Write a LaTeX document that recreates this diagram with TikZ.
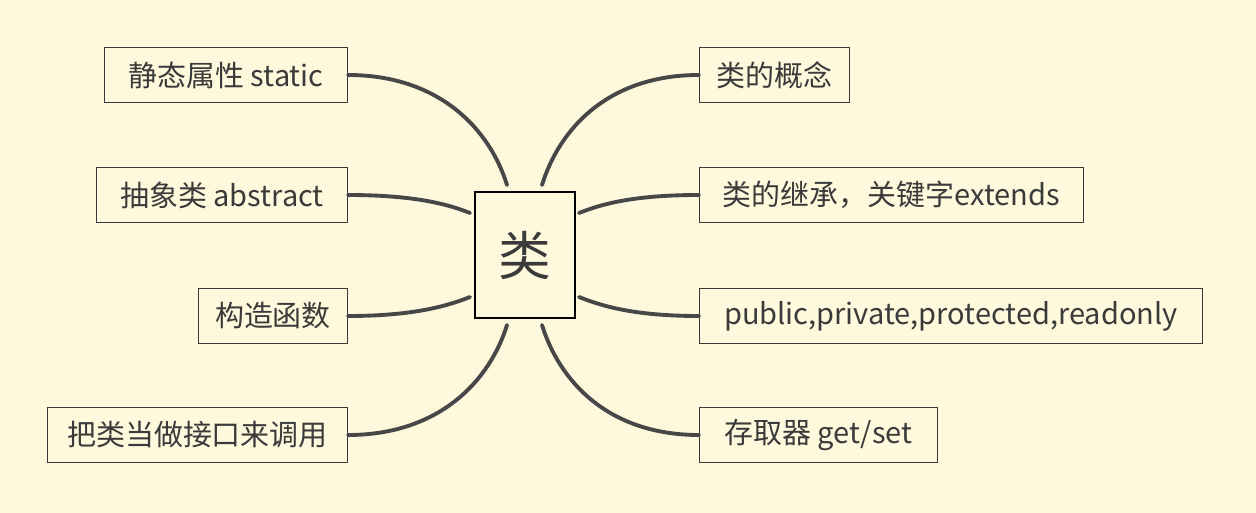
\documentclass[tikz,border=0pt]{standalone}
\usepackage{fontspec}
\setmainfont{Noto Sans CJK SC}
\usepackage{xcolor}
\usepackage{tikz}
\usetikzlibrary{calc}
\definecolor{paper}{HTML}{FEF8DC}
\definecolor{ink}{HTML}{3A3A3A}
\definecolor{wire}{HTML}{474747}
\tikzset{
  topic/.style={draw=ink, line width=0.6pt, text=ink, font=\fontsize{16.5}{19}\selectfont, minimum height=1.1cm, inner xsep=0.3cm},
  hub/.style={draw=black, line width=1.3pt, text=ink, font=\fontsize{30}{36}\selectfont, minimum width=2cm, minimum height=2.52cm},
  link/.style={draw=wire, line width=2.2pt, line cap=round},
}

\begin{document}
\begin{tikzpicture}[x=0.02cm,y=-0.02cm]
  \fill[paper] (0,0) rectangle (1256,513);
  \node[hub] (C) at (525,255) {类};
  % left side
  \node[topic,anchor=east,minimum width=4.86cm] (L1) at (348,75) {静态属性 static};
  \node[topic,anchor=east,minimum width=5.02cm] (L2) at (348,195) {抽象类 abstract};
  \node[topic,anchor=east,minimum width=2.98cm] (L3) at (348,316) {构造函数};
  \node[topic,anchor=east,minimum width=6cm] (L4) at (348,435) {把类当做接口来调用};
  % right side
  \node[topic,anchor=west,minimum width=3cm] (R1) at (699,75) {类的概念};
  \node[topic,anchor=west,minimum width=7.68cm] (R2) at (699,195) {类的继承，关键字extends};
  \node[topic,anchor=west,minimum width=10.06cm] (R3) at (699,316) {public,private,protected,readonly};
  \node[topic,anchor=west,minimum width=4.76cm] (R4) at (699,435) {存取器 get/set};
  % ends near the hub
  \coordinate (CL1) at (507,185);
  \coordinate (CL2) at (470,213);
  \coordinate (CL3) at (470,297);
  \coordinate (CL4) at (507,325);
  \coordinate (CR1) at (542,185);
  \coordinate (CR2) at (579,213);
  \coordinate (CR3) at (579,297);
  \coordinate (CR4) at (542,325);
  \draw[link] (L1.east) .. controls +(92,0) and +(-17,-55) .. (CL1);
  \draw[link] (L2.east) .. controls +(62,0) and +(-25,-10) .. (CL2);
  \draw[link] (L3.east) .. controls +(62,0) and +(-25,10) .. (CL3);
  \draw[link] (L4.east) .. controls +(92,0) and +(-17,55) .. (CL4);
  \draw[link] (R1.west) .. controls +(-92,0) and +(17,-55) .. (CR1);
  \draw[link] (R2.west) .. controls +(-62,0) and +(25,-10) .. (CR2);
  \draw[link] (R3.west) .. controls +(-62,0) and +(25,10) .. (CR3);
  \draw[link] (R4.west) .. controls +(-92,0) and +(17,55) .. (CR4);
\end{tikzpicture}
\end{document}
